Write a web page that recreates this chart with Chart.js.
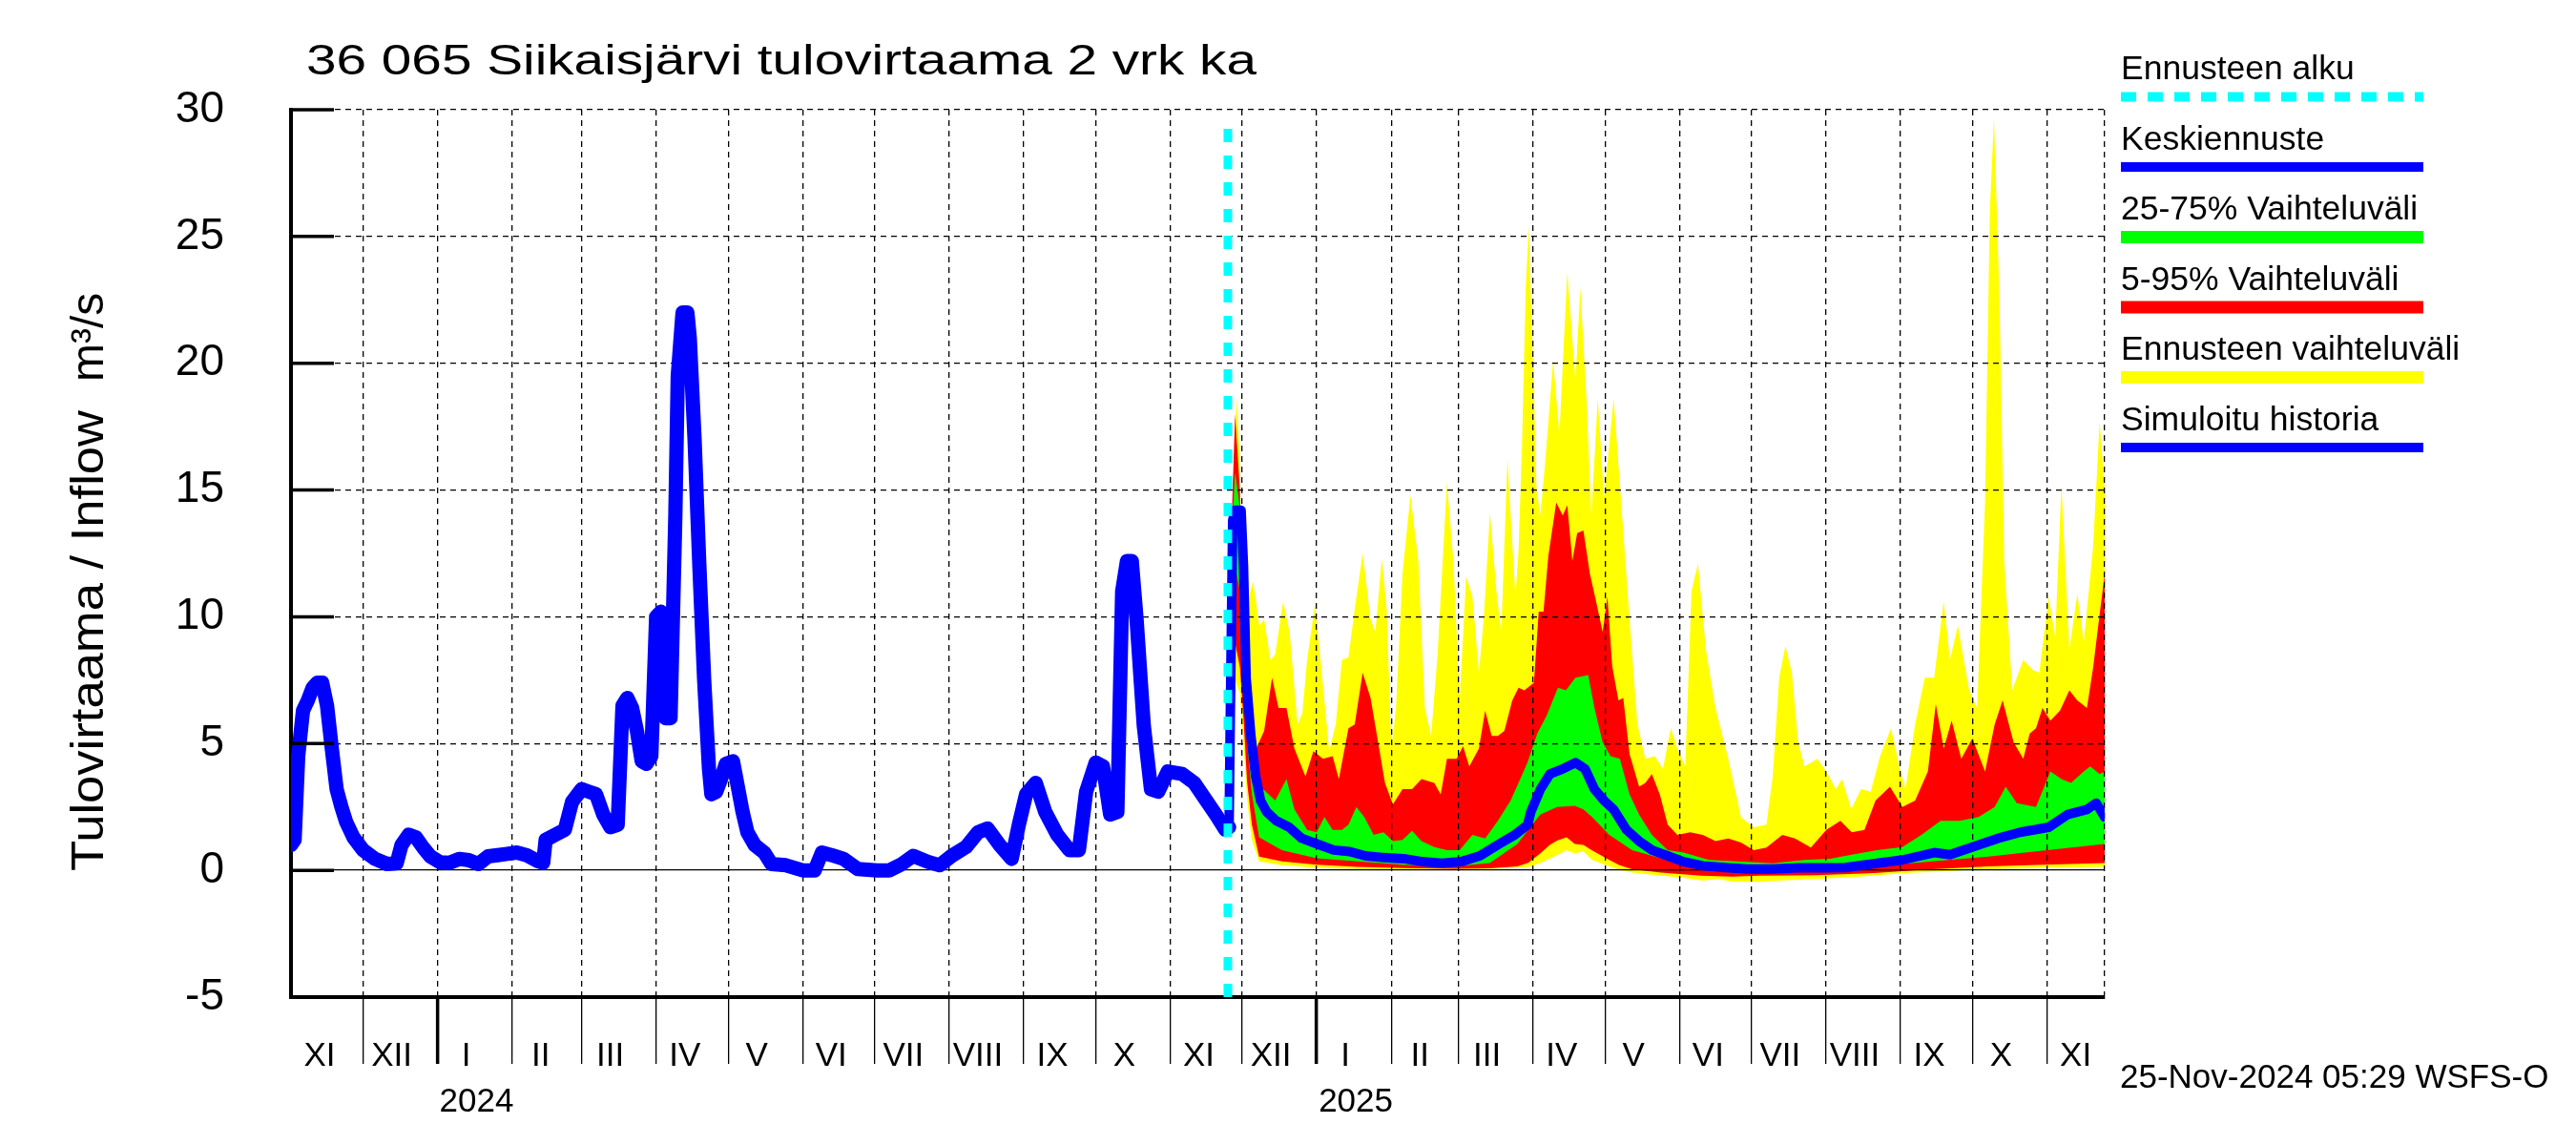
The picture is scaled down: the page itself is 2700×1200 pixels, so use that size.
<!DOCTYPE html>
<html><head><meta charset="utf-8">
<script src="https://cdn.jsdelivr.net/npm/chart.js@4.4.1/dist/chart.umd.min.js"></script>
<style>html,body{margin:0;padding:0;background:#fff;}canvas{background:#fff;display:block;}</style>
</head><body>
<canvas id="c" width="2700" height="1200"></canvas>
<script>
// ---- data (x = days since 1 Nov 2023) ----
const monthStarts = [0,30,61,92,121,152,182,213,243,274,305,335,366,396,427,458,486,517,547,578,608,639,670,700,731];
const monthRoman  = ['XI','XII','I','II','III','IV','V','VI','VII','VIII','IX','X','XI','XII','I','II','III','IV','V','VI','VII','VIII','IX','X','XI'];
const yearStarts  = [61,427];
const yearLabels  = ['2024','2025'];
const xEnd = 755;
const forecastStart = 390;
const yTicks = [-5,0,5,10,15,20,25,30];

const history = [[0,1.0],[1.5,1.2],[3,4.5],[5,6.3],[7,6.7],[9,7.2],[11,7.4],[13,7.4],[15,6.5],[17,4.8],[19,3.2],[21,2.5],[23,1.9],[26,1.3],[30,0.8],[35,0.45],[40,0.25],[44,0.28],[46,1.0],[49,1.4],[52,1.3],[55,0.9],[58,0.55],[62,0.32],[66,0.3],[70,0.45],[74,0.4],[78,0.25],[82,0.55],[86,0.6],[90,0.65],[94,0.7],[98,0.6],[103,0.35],[105,0.3],[106,1.2],[110,1.4],[114,1.6],[117,2.7],[121,3.2],[124,3.1],[127,3.0],[130,2.2],[133,1.7],[136,1.8],[138,6.5],[140,6.8],[142,6.4],[144,5.5],[146,4.3],[148,4.2],[150,4.5],[152,10.0],[154,10.2],[155,8.0],[156,6.0],[158,6.0],[160,14],[161,19.5],[163,22.0],[165,22.0],[166,21],[168,17],[170,12],[172,7.5],[174,4.0],[175,3.0],[177,3.1],[179,3.6],[181,4.2],[184,4.3],[186,3.3],[188,2.3],[190,1.5],[193,1.0],[197,0.7],[200,0.25],[206,0.2],[213,0.0],[218,0.0],[221,0.7],[225,0.6],[230,0.45],[236,0.05],[244,0.0],[249,0.0],[254,0.23],[259,0.57],[265,0.34],[270,0.2],[275,0.57],[281,0.92],[286,1.5],[290,1.65],[295,1.0],[300,0.45],[303,1.8],[306,3.0],[310,3.45],[314,2.3],[319,1.4],[324,0.8],[328,0.8],[331,3.1],[335,4.25],[338,4.1],[341,2.2],[344,2.3],[346,11.0],[348,12.2],[350,12.2],[352,9.9],[355,5.7],[358,3.2],[361,3.1],[365,3.9],[371,3.8],[376,3.45],[381,2.75],[385,2.2],[389,1.6],[390.5,1.7]];

const median = [[390.5,1.6],[391,6],[392,13.8],[393,14.2],[395.5,14.2],[396.5,12],[397.6,7.6],[399.6,5.3],[401.6,3.7],[403.6,2.75],[406.2,2.3],[410.2,1.95],[415.5,1.7],[420.8,1.26],[427.4,1.03],[434,0.8],[440.7,0.74],[447.3,0.57],[455.2,0.5],[463.2,0.46],[471.1,0.34],[479,0.28],[487,0.34],[494.9,0.57],[502.8,1.03],[509.5,1.4],[514.8,1.8],[516.1,2.3],[520.1,3.2],[524.1,3.8],[529.4,4.0],[534.7,4.25],[538.7,4.0],[542.6,3.2],[546.6,2.75],[550.6,2.4],[555.9,1.6],[561.2,1.15],[566.5,0.8],[573.1,0.57],[579.7,0.34],[587.7,0.18],[597,0.11],[606.2,0.05],[616.8,0.05],[627.4,0.1],[638,0.1],[647,0.11],[660.2,0.28],[670.8,0.41],[684,0.7],[690.6,0.62],[699.9,0.92],[710.5,1.26],[719.8,1.5],[731.7,1.7],[739.6,2.2],[747.6,2.4],[751.5,2.65],[755,2.1]];

const yellowMax = [[391,12],[392.5,16],[393.7,18.7],[394.8,16.5],[396,11],[397.9,10.5],[400.5,11.4],[403.1,9.65],[405.1,9.9],[407.7,8.3],[409.7,8.5],[413,10.6],[415.7,9.4],[419,5.75],[421,6.2],[423,8.3],[426.3,10.5],[428.9,8.0],[432.2,4.7],[434.9,5.75],[437.5,8.3],[440.2,8.4],[442.8,10.3],[446.1,12.5],[449.4,9.9],[451.4,9.4],[454.1,12.3],[456.1,10.3],[458.1,4.8],[460,6.4],[462.7,11.7],[466,14.8],[469.3,12.2],[472,6.4],[474.6,5.3],[477.3,8.5],[481.2,15.3],[483.9,12.2],[486.5,6.7],[489.2,11.6],[491.8,10.8],[494.5,7.8],[496.5,9.9],[499.1,14.1],[501.8,11.0],[503.8,9.4],[506.4,16.2],[509.7,10.8],[511,12.6],[512.5,17],[514,23],[515.3,25.4],[516.3,22],[517.4,19.0],[518.5,15],[520.1,14.0],[522.1,16.1],[525.4,20.1],[528,17.2],[531.3,23.6],[534.7,19.3],[536.7,23],[539.3,18.6],[541.3,14.0],[544,18.6],[546.6,14.7],[550.6,18.6],[553.9,14.3],[557.2,9.9],[560.5,5.75],[563.8,4.4],[567.8,4.5],[571.1,4.0],[574.4,5.6],[577.1,4.8],[580.4,4.1],[583,11.0],[585.7,12.1],[589,8.7],[593,6.4],[598.3,4.4],[603.6,2.1],[608.9,1.7],[614.2,1.8],[616.8,3.7],[619.5,7.6],[622.1,8.85],[624.8,7.8],[627.4,5.05],[630.1,4.1],[635.4,4.4],[639.1,3.9],[643.1,3.2],[645.7,3.6],[649.5,2.4],[653.6,3.2],[657.6,3.1],[661.5,4.5],[666.1,5.6],[669.5,4.1],[672.1,3.2],[676.1,5.75],[680.1,7.6],[684,7.6],[688,10.6],[690.6,8.3],[693.9,9.65],[698.6,7.1],[701.9,6.4],[705.2,14.5],[707.2,26],[708.9,29.7],[711.2,22.6],[713.2,12.2],[716.5,7.1],[721.1,8.3],[725.1,7.9],[727.8,7.8],[731.7,10.8],[734.4,9.2],[737,15.2],[740.3,8.7],[743.6,10.9],[746.3,9.0],[750.2,12.8],[752.9,17.7],[755,15.0]];

const yellowMin = [[391,7.5],[393,7.5],[395,7],[396.5,5],[398,2.8],[400,1.2],[403,0.35],[412.5,0.2],[427,0.1],[444,0.05],[463,0.03],[484,0.02],[499,0.05],[510,0.1],[516,0.15],[520,0.29],[527,0.6],[531,0.8],[534.4,0.66],[538,0.75],[541.6,0.41],[548.8,0.16],[553,0.02],[558.3,-0.09],[570.3,-0.21],[580,-0.3],[587,-0.4],[595,-0.35],[600,-0.45],[611,-0.46],[620,-0.4],[635,-0.34],[645,-0.3],[659,-0.21],[670,-0.12],[683,-0.06],[695,0],[706.5,0.04],[730,0.1],[755,0.14]];

const red95 = [[391,12],[393,18],[395,15],[396.5,9],[398,7],[400,5.5],[401.8,4.8],[405.1,5.5],[408.4,7.6],[411.1,6.4],[414.4,6.4],[417.7,4.8],[422.3,3.7],[425.6,4.7],[429.6,4.4],[433.6,4.5],[436.2,3.6],[440.2,5.6],[442.8,5.75],[446.1,7.8],[449.4,6.8],[452.1,5.3],[455.4,3.45],[458.7,2.6],[462.7,3.2],[466.7,3.2],[470.6,3.6],[475.9,3.45],[478.6,3.0],[481.2,4.4],[485.2,4.4],[487.9,4.9],[490.5,4.1],[494.5,4.8],[497.1,6.3],[499.8,5.3],[502.4,5.3],[505.1,5.5],[508.4,6.7],[511,7.2],[513.4,7.1],[517.4,7.4],[519.4,10.2],[521.4,10.2],[523.4,12.4],[526.7,14.5],[529.4,14.0],[531.3,14.4],[533.4,12.2],[535.4,13.3],[538,13.4],[540.7,11.7],[543.3,10.6],[546,9.4],[548,10.8],[550,8.05],[552.6,6.7],[554.6,6.8],[557.2,4.6],[561.2,3.3],[563.8,3.45],[566.5,3.8],[569.8,3.0],[573.1,1.8],[577.1,1.4],[582.4,1.5],[587.7,1.4],[593,1.15],[598.3,1.26],[603.6,1.1],[608.9,0.8],[614.2,0.9],[620.8,1.4],[626.1,1.26],[632.7,0.9],[639.1,1.6],[645,1.95],[649.7,1.5],[655,1.6],[659.6,2.75],[665.6,3.3],[670.8,2.5],[676.1,2.75],[681.4,3.9],[684.7,6.55],[688,4.8],[691.3,5.9],[695.3,4.4],[699.9,5.2],[705.2,3.9],[709.2,5.75],[712.5,6.7],[717.1,5.05],[721.1,4.4],[723.8,5.4],[726.4,5.6],[729.1,6.4],[732.4,5.9],[736.4,6.3],[740.3,7.1],[743.6,6.7],[747.6,6.4],[750.2,8.0],[752.9,10.1],[755,11.7]];

const red5 = [[391,9],[393,9],[395,8],[396.5,6],[398,3.5],[400,1.8],[403,0.54],[412.5,0.35],[427,0.22],[444,0.14],[463,0.09],[484,0.06],[499,0.08],[510.5,0.16],[515,0.3],[520,0.66],[524,1.0],[527,1.17],[531,1.3],[534.4,1.04],[538,1.0],[541.6,0.79],[548.8,0.41],[553,0.2],[558.3,0.04],[570.3,-0.09],[587,-0.21],[600,-0.25],[611,-0.21],[635,-0.19],[659,-0.11],[683,0.04],[706.5,0.16],[730,0.22],[755,0.29]];

const green75 = [[391,12],[393,15.7],[395,14.3],[396.5,9.5],[398,6],[400,4.2],[401.8,3.45],[405.8,3.1],[409.7,2.75],[414.4,3.6],[417.7,2.4],[423,1.6],[427,1.5],[430.2,2.1],[433.6,1.6],[437.5,1.6],[440.2,1.8],[443.5,2.5],[446.8,2.1],[450.7,1.4],[454.8,1.5],[458.7,1.15],[462.7,1.2],[466.7,1.56],[470.6,1.15],[475.9,0.92],[481.2,0.8],[486.5,0.8],[491.8,1.4],[497.1,1.26],[502.4,1.95],[507.7,2.75],[511.7,3.6],[514.7,4.25],[518.8,5.4],[522.7,6.1],[527.4,7.2],[530.7,7.1],[534.7,7.6],[540,7.7],[542.6,6.4],[546,5.05],[549.3,4.5],[553.2,4.4],[557.2,3.0],[561.2,2.2],[566.5,1.4],[573.1,0.8],[579.7,0.7],[590.3,0.41],[603.6,0.34],[616.8,0.28],[630.1,0.41],[640.7,0.46],[647,0.57],[660.2,0.8],[670.8,0.92],[678.7,1.4],[686.7,1.95],[694.6,1.95],[702.5,2.1],[709.2,2.5],[713.8,3.3],[718.4,2.65],[726.4,2.5],[732.4,3.9],[737,3.6],[741,3.45],[746.3,3.9],[749,4.1],[752.9,3.8],[755,3.9]];

const green25 = [[391,11],[393,12],[395,11],[396.5,8],[398,5],[400,3],[403,1.3],[412.5,0.8],[427,0.48],[444,0.35],[463,0.22],[484,0.16],[499,0.29],[510.5,1.04],[515,1.6],[520,2.2],[527,2.5],[534.4,2.55],[538,2.4],[541.6,2.1],[548.8,1.4],[558.3,0.8],[570.3,0.48],[587,0.22],[611,0.1],[635,0.1],[659,0.16],[683,0.35],[706.5,0.54],[730,0.79],[755,1.04]];

const titleText = '36 065 Siikaisjärvi tulovirtaama 2 vrk ka';
const yLabelMain = 'Tulovirtaama / Inflow';
const yLabelUnit = 'm³/s';
const stampText = '25-Nov-2024 05:29 WSFS-O';
const legendItems = [
  {text:'Ennusteen alku', color:'#00ffff', width:10, dash:[16,12]},
  {text:'Keskiennuste', color:'#0000ff', width:10, dash:[]},
  {text:'25-75% Vaihteluväli', color:'#00ff00', width:13, dash:[]},
  {text:'5-95% Vaihteluväli', color:'#ff0000', width:13, dash:[]},
  {text:'Ennusteen vaihteluväli', color:'#ffff00', width:13, dash:[]},
  {text:'Simuloitu historia', color:'#0000ff', width:10, dash:[]}
];

// ---- chart ----
const FONT = '"Liberation Sans", Arial, Helvetica, sans-serif';
const pts = arr => arr.map(p => ({x:p[0], y:p[1]}));

function stretchedText(ctx, text, x, y, size, targetW) {
  ctx.save();
  ctx.font = size + 'px ' + FONT;
  const w = ctx.measureText(text).width;
  const sx = targetW ? targetW / w : 1;
  ctx.translate(x, y);
  ctx.scale(sx, 1);
  ctx.fillText(text, 0, 0);
  ctx.restore();
}

const decor = {
  id: 'decor',
  afterDraw(chart) {
    const {ctx} = chart;
    const xs = chart.scales.x, ys = chart.scales.y;
    ctx.save();
    // inward y ticks
    ctx.strokeStyle = '#000';
    ctx.lineWidth = 3.5;
    ys.ticks.forEach(t => {
      const py = ys.getPixelForValue(t.value);
      ctx.beginPath(); ctx.moveTo(xs.left, py); ctx.lineTo(xs.left + 45, py); ctx.stroke();
    });
    ctx.fillStyle = '#000';
    ctx.textAlign = 'left';
    ctx.textBaseline = 'alphabetic';
    // title
    stretchedText(ctx, titleText, 321, 78, 44, 996);
    // year labels
    ctx.font = '35px ' + FONT;
    yearStarts.forEach((d, i) => {
      ctx.fillText(yearLabels[i], xs.getPixelForValue(d) + 2, 1165);
    });
    // timestamp
    ctx.fillText(stampText, 2222, 1140);
    // legend
    legendItems.forEach((it, i) => {
      const base = 83 + 73.5 * i;
      ctx.fillStyle = '#000';
      stretchedText(ctx, it.text, 2223, base, 35.5, 0);
      ctx.save();
      ctx.strokeStyle = it.color;
      ctx.lineWidth = it.width;
      ctx.setLineDash(it.dash);
      ctx.beginPath(); ctx.moveTo(2223, base + 18.5); ctx.lineTo(2540, base + 18.5); ctx.stroke();
      ctx.restore();
    });
    // y axis title
    ctx.save();
    ctx.translate(95, 913);
    ctx.rotate(-Math.PI / 2);
    ctx.fillStyle = '#000';
    ctx.textBaseline = 'middle';
    stretchedText(ctx, yLabelMain, 0, 0, 48, 483);
    stretchedText(ctx, yLabelUnit, 913 - 400, 0, 48, 0);
    ctx.restore();
    ctx.restore();
  }
};

const lineDs = (data, color, width, extra) => Object.assign({
  data: pts(data), borderColor: color, borderWidth: width, pointRadius: 0,
  tension: 0, fill: false, borderJoinStyle: 'round', borderCapStyle: 'round'
}, extra || {});
const bandDs = (data, color, fill) => ({
  data: pts(data), borderWidth: 0, borderColor: 'rgba(0,0,0,0)', backgroundColor: color,
  pointRadius: 0, tension: 0, fill: fill
});

new Chart(document.getElementById('c'), {
  type: 'line',
  data: {
    datasets: [
      lineDs([[forecastStart,-5],[forecastStart,29.7]], '#00ffff', 9, {borderDash:[14,14], borderCapStyle:'butt'}),
      lineDs(history, '#0000ff', 15),
      lineDs(median, '#0000ff', 10),
      bandDs(green75, '#00ff00', '+1'),
      bandDs(green25, '#00ff00', false),
      bandDs(red95, '#ff0000', '+1'),
      bandDs(red5, '#ff0000', false),
      bandDs(yellowMax, '#ffff00', '+1'),
      bandDs(yellowMin, '#ffff00', false)
    ]
  },
  options: {
    responsive: false,
    devicePixelRatio: 1,
    animation: false,
    layout: {padding: {left: 0, top: 115, right: 494, bottom: 0}},
    plugins: {
      legend: {display: false},
      title: {display: false},
      tooltip: {enabled: false},
      filler: {propagate: false, drawTime: 'beforeDraw'}
    },
    scales: {
      x: {
        type: 'linear', min: 0, max: xEnd,
        afterBuildTicks: s => { s.ticks = monthStarts.map(v => ({value: v})).concat([{value: xEnd}]); },
        afterFit: s => { s.height = 155; },
        ticks: {
          autoSkip: false, maxRotation: 0, minRotation: 0,
          labelOffset: 30, padding: -29,
          color: '#000', font: {family: FONT, size: 35},
          callback: (v, i) => i < monthRoman.length ? monthRoman[i] : ''
        },
        grid: {
          color: '#000', lineWidth: 1.3, drawTicks: true, tickLength: 70,
          tickBorderDash: [],
          tickWidth: c => (c.tick && yearStarts.includes(c.tick.value)) ? 3.5 : 1.3,
          tickColor: c => (c.index === 0 || (c.tick && c.tick.value === xEnd)) ? 'rgba(0,0,0,0)' : '#000'
        },
        border: {display: true, color: '#000', width: 4, dash: [6,5]}
      },
      y: {
        type: 'linear', min: -5, max: 30,
        afterBuildTicks: s => { s.ticks = yTicks.map(v => ({value: v})); },
        afterFit: s => { s.width = 305; },
        ticks: {color: '#000', font: {family: FONT, size: 46}, padding: 70},
        grid: {color: '#000', lineWidth: 1.3, drawTicks: false},
        border: {display: true, color: '#000', width: 4,
          dash: c => (c.tick && c.tick.value === 0) ? [] : [6,5]}
      }
    }
  },
  plugins: [decor]
});
</script>
</body></html>
